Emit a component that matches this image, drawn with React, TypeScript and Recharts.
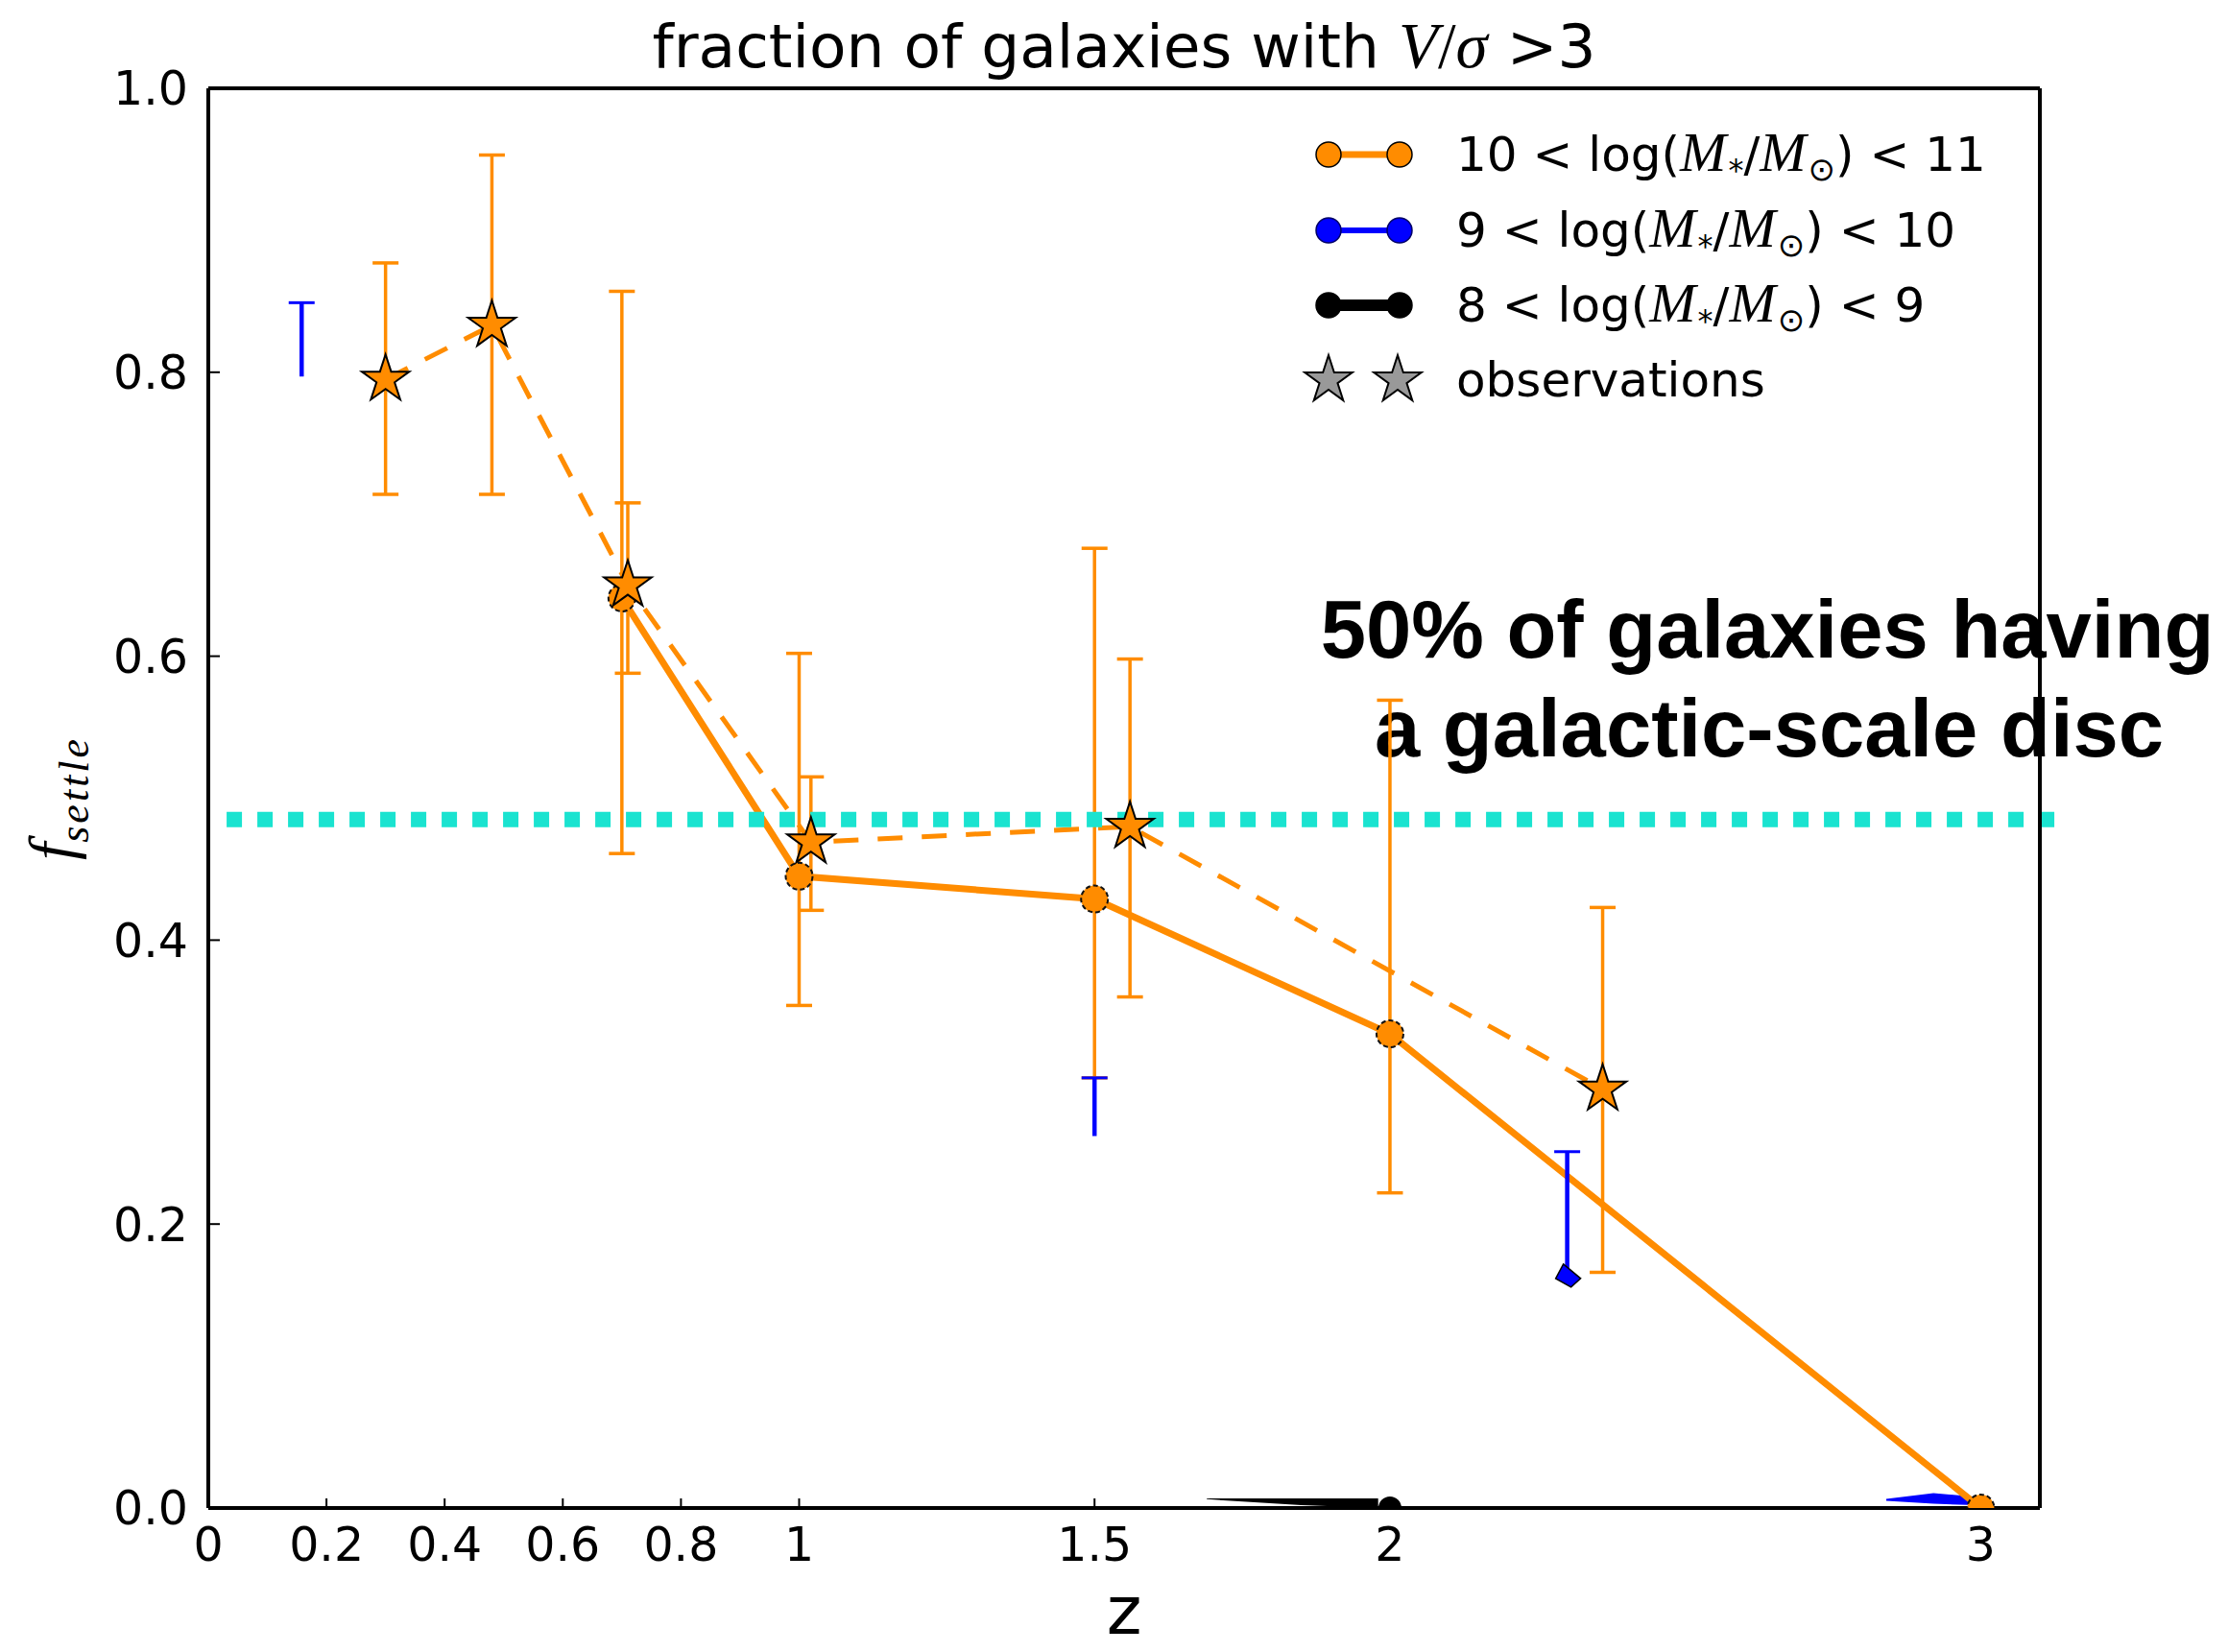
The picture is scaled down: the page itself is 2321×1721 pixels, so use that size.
import React from "react";
import {
  ComposedChart,
  Line,
  Scatter,
  Area,
  XAxis,
  YAxis,
  ErrorBar,
  ReferenceLine,
  Legend,
  Customized,
} from "recharts";

// f_settle vs z. Error bars are kept as absolute lo/hi values.

// model, 10 < log(M*/Msun) < 11 (solid line, circles)
const modelZ = [0.7, 1.0, 1.5, 2.0, 3.0];
const modelF = [0.641, 0.445, 0.429, 0.334, 0.0];
const modelLo = [0.461, 0.354, 0.303, 0.222, null];
const modelHi = [0.857, 0.602, 0.676, 0.569, null];

// observations (dashed line, stars)
const obsZ = [0.3, 0.48, 0.71, 1.02, 1.56, 2.36];
const obsF = [0.795, 0.833, 0.65, 0.469, 0.48, 0.295];
const obsLo = [0.714, 0.714, 0.588, 0.421, 0.36, 0.166];
const obsHi = [0.877, 0.953, 0.708, 0.515, 0.598, 0.423];

// model, 9 < log < 10: only the error bars show (cap on top only)
const midZ = [0.158, 1.5, 2.3];
const midLo = [0.797, 0.262, 0.161];
const midHi = [0.849, 0.303, 0.251];
const midTipZ = [2.3];
const midTipF = [0.161];
const midBandZ = [2.84, 2.92, 2.99];
const midBandLo = [0.005, 0.003, 0.002];
const midBandHi = [0.0065, 0.0105, 0.008];

// model, 8 < log < 9: sits on zero
const lowZ = [2.0, 3.0];
const lowF = [0.0, 0.0];
const lowBandZ = [1.69, 1.85, 1.98];
const lowBandLo = [0.0062, 0.002, 0.0];
const lowBandHi = [0.0068, 0.0068, 0.0068];

// 50% line
const thresholdF = 0.485;
const thresholdZ = [0.031, 3.125];

const xTicks = [0, 0.2, 0.4, 0.6, 0.8, 1, 1.5, 2, 3];
const yTicks = [0, 0.2, 0.4, 0.6, 0.8, 1.0];
const massLo = [10, 9, 8];
const massHi = [11, 10, 9];

const ORANGE = "#ff8c00";
const BLUE = "#0000ff";
const CYAN = "#1ae3d0";
const SANS = "DejaVu Sans";
const SERIF = "Liberation Serif";

const modelData = modelZ.map((z, i) => ({
  z,
  f: modelF[i],
  err: modelLo[i] == null ? undefined : [modelF[i] - (modelLo[i] as number), (modelHi[i] as number) - modelF[i]],
}));
const obsData = obsZ.map((z, i) => ({ z, f: obsF[i], err: [obsF[i] - obsLo[i], obsHi[i] - obsF[i]] }));
const midData = midZ.map((z, i) => ({ z, f: midLo[i], err: [0, midHi[i] - midLo[i]] }));
const midCapData = midZ.map((z, i) => ({ z, f: midHi[i] }));
const midTipData = midTipZ.map((z, i) => ({ z, f: midTipF[i] }));
const midBand = midBandZ.map((z, i) => ({ z, band: [midBandLo[i], midBandHi[i]] }));
const lowData = lowZ.map((z, i) => ({ z, f: lowF[i] }));
const lowBand = lowBandZ.map((z, i) => ({ z, band: [lowBandLo[i], lowBandHi[i]] }));

function starPath(cx: number, cy: number, R: number) {
  const r = R * 0.382;
  let d = "";
  for (let i = 0; i < 10; i++) {
    const rad = i % 2 === 0 ? R : r;
    const a = -Math.PI / 2 + (i * Math.PI) / 5;
    d += (i === 0 ? "M" : "L") + (cx + rad * Math.cos(a)).toFixed(2) + "," + (cy + rad * Math.sin(a)).toFixed(2);
  }
  return d + "Z";
}

const StarDot = (props: any) => {
  const { cx, cy, index } = props;
  if (cx == null || cy == null) return <g key={index} />;
  return <path key={index} d={starPath(cx, cy, 26)} fill={ORANGE} stroke="#000" strokeWidth={2} />;
};

const CircleDot = (props: any) => {
  const { cx, cy, index } = props;
  if (cx == null || cy == null) return <g key={index} />;
  return <circle key={index} cx={cx} cy={cy} r={14} fill={ORANGE} stroke="#111" strokeWidth={2} strokeDasharray="5 3" />;
};

const HalfDot = (props: any) => {
  const { cx, cy } = props;
  return <path d={`M${cx - 12},${cy} A12,12 0 0 1 ${cx + 12},${cy} Z`} fill="#000" />;
};

const CapMark = (props: any) => {
  const { cx, cy } = props;
  return <line x1={cx - 13.5} x2={cx + 13.5} y1={cy} y2={cy} stroke={BLUE} strokeWidth={3} />;
};

const TipDot = (props: any) => {
  const { cx, cy } = props;
  return (
    <path
      d={`M${cx - 4},${cy - 16} L${cx + 14},${cy - 1} L${cx + 4},${cy + 8} L${cx - 12},${cy - 1} Z`}
      fill={BLUE}
      stroke="#000"
      strokeWidth={1.5}
    />
  );
};

const NoDot = () => <g />;

const Title = (props: any) => {
  const vb = props.viewBox || { x: 0, width: 0 };
  return (
    <text x={vb.x + vb.width / 2} y={70} textAnchor="middle" fontFamily={SANS} fontSize={63} fill="#000">
      {"fraction of galaxies with "}
      <tspan fontFamily={SERIF} fontStyle="italic" fontSize={67}>V</tspan>
      <tspan fontFamily={SERIF} fontSize={67}>/</tspan>
      <tspan fontFamily={SERIF} fontStyle="italic" fontSize={67}>σ</tspan>
      {" >3"}
    </text>
  );
};

const YLabel = (props: any) => {
  const vb = props.viewBox || { y: 0, height: 0 };
  const cy = vb.y + vb.height / 2;
  return (
    <text transform={`translate(76, ${cy}) rotate(-90)`} textAnchor="middle" fontFamily={SERIF} fontStyle="italic" fill="#000">
      <tspan fontSize={66}>f</tspan>
      <tspan fontSize={44} dy={16} letterSpacing={3}>settle</tspan>
    </text>
  );
};

const Annotation = () => (
  <text fontFamily="Liberation Sans" fontWeight="bold" fontSize={85} fill="#000" textAnchor="middle">
    <tspan x={1841} y={685}>50% of galaxies having</tspan>
    <tspan x={1843} y={788}>a galactic-scale disc</tspan>
  </text>
);

const legendLines = [
  { color: ORANGE, edge: "#000", lw: 7 },
  { color: BLUE, edge: "#000066", lw: 6 },
  { color: "#000", edge: "#000", lw: 12 },
];

const LegendBox = () => {
  const rowY = [61, 140, 218, 296];
  return (
    <svg width={900} height={340} style={{ overflow: "visible" }}>
      {massLo.map((lo, i) => {
        const s = legendLines[i];
        const y = rowY[i];
        return (
          <g key={i}>
            <line x1={44} x2={118} y1={y} y2={y} stroke={s.color} strokeWidth={s.lw} />
            <circle cx={44} cy={y} r={13} fill={s.color} stroke={s.edge} strokeWidth={1.5} />
            <circle cx={118} cy={y} r={13} fill={s.color} stroke={s.edge} strokeWidth={1.5} />
            <text x={177} y={y + 17} fontFamily={SANS} fontSize={50} fill="#000">
              {`${lo} < log(`}
              <tspan fontFamily={SERIF} fontStyle="italic" fontSize={58} letterSpacing={2}>M</tspan>
              <tspan fontSize={32} dy={10}>*</tspan>
              <tspan dy={-10}>/</tspan>
              <tspan fontFamily={SERIF} fontStyle="italic" fontSize={58} letterSpacing={2}>M</tspan>
              <tspan fontSize={34} dy={10}>⊙</tspan>
              <tspan dy={-10}>{`) < ${massHi[i]}`}</tspan>
            </text>
          </g>
        );
      })}
      <path d={starPath(44, rowY[3], 26)} fill="#999" stroke="#000" strokeWidth={2} />
      <path d={starPath(116, rowY[3], 26)} fill="#999" stroke="#000" strokeWidth={2} />
      <text x={177} y={rowY[3] + 17} fontFamily={SANS} fontSize={50} fill="#000">observations</text>
    </svg>
  );
};

const tickStyle = { fill: "#000", fontSize: 49, fontFamily: SANS };

export default function App() {
  return (
    <div style={{ position: "absolute", left: 0, top: 0, width: 2321, height: 1721, background: "#fff" }}>
      <ComposedChart width={2321} height={1721} margin={{ top: 0, right: 0, bottom: 0, left: 0 }}>
        <Customized component={Annotation} />

        <Area data={lowBand} dataKey="band" type="linear" stroke="none" fill="#000" fillOpacity={1} isAnimationActive={false} />
        <Area data={midBand} dataKey="band" type="linear" stroke="none" fill={BLUE} fillOpacity={1} isAnimationActive={false} />

        <Line
          data={modelData}
          dataKey="f"
          type="linear"
          stroke={ORANGE}
          strokeWidth={7}
          dot={CircleDot}
          activeDot={false}
          isAnimationActive={false}
        >
          <ErrorBar dataKey="err" direction="y" width={13.5} stroke={ORANGE} strokeWidth={3.5} />
        </Line>
        <Line
          data={obsData}
          dataKey="f"
          type="linear"
          stroke={ORANGE}
          strokeWidth={5}
          strokeDasharray="26 20"
          dot={StarDot}
          activeDot={false}
          isAnimationActive={false}
        >
          <ErrorBar dataKey="err" direction="y" width={13.5} stroke={ORANGE} strokeWidth={3.5} />
        </Line>

        <Scatter data={midData} dataKey="f" shape={NoDot} isAnimationActive={false}>
          <ErrorBar dataKey="err" direction="y" width={0} stroke={BLUE} strokeWidth={4.5} />
        </Scatter>
        <Scatter data={midCapData} dataKey="f" shape={CapMark} isAnimationActive={false} />
        <Scatter data={midTipData} dataKey="f" shape={TipDot} isAnimationActive={false} />
        <Scatter data={lowData} dataKey="f" shape={HalfDot} isAnimationActive={false} />

        <XAxis
          dataKey="z"
          type="number"
          domain={[0, 3.1]}
          allowDataOverflow
          ticks={xTicks}
          interval={0}
          height={150}
          tickSize={-10}
          tickMargin={30}
          tick={tickStyle}
          axisLine={{ stroke: "#000", strokeWidth: 4 }}
          tickLine={{ stroke: "#000", strokeWidth: 2 }}
          label={{ value: "z", position: "insideBottom", offset: 19, fill: "#000", fontSize: 70, fontFamily: SANS }}
        />
        <XAxis
          xAxisId="top"
          orientation="top"
          dataKey="z"
          type="number"
          domain={[0, 3.1]}
          allowDataOverflow
          ticks={xTicks}
          interval={0}
          height={92}
          tickSize={-10}
          tick={false}
          axisLine={{ stroke: "#000", strokeWidth: 4 }}
          tickLine={{ stroke: "#000", strokeWidth: 2 }}
          label={Title}
        />
        <YAxis
          type="number"
          domain={[0, 1]}
          allowDataOverflow
          ticks={yTicks}
          interval={0}
          width={217}
          tickSize={-12}
          tickMargin={33}
          tick={tickStyle}
          tickFormatter={(v: number) => v.toFixed(1)}
          axisLine={{ stroke: "#000", strokeWidth: 4 }}
          tickLine={{ stroke: "#000", strokeWidth: 2 }}
          label={YLabel}
        />
        <YAxis
          yAxisId="right"
          orientation="right"
          type="number"
          domain={[0, 1]}
          allowDataOverflow
          ticks={yTicks}
          interval={0}
          width={196}
          tickSize={-12}
          tick={false}
          axisLine={{ stroke: "#000", strokeWidth: 4 }}
          tickLine={{ stroke: "#000", strokeWidth: 2 }}
        />

        <ReferenceLine
          segment={[
            { x: thresholdZ[0], y: thresholdF },
            { x: thresholdZ[1], y: thresholdF },
          ]}
          ifOverflow="visible"
          stroke={CYAN}
          strokeWidth={16}
          strokeDasharray="16 16"
        />

        <Legend
          layout="vertical"
          align="center"
          verticalAlign="middle"
          content={() => <LegendBox />}
          wrapperStyle={{ left: 1340, top: 100, width: 900, height: 340 }}
        />
      </ComposedChart>
    </div>
  );
}
